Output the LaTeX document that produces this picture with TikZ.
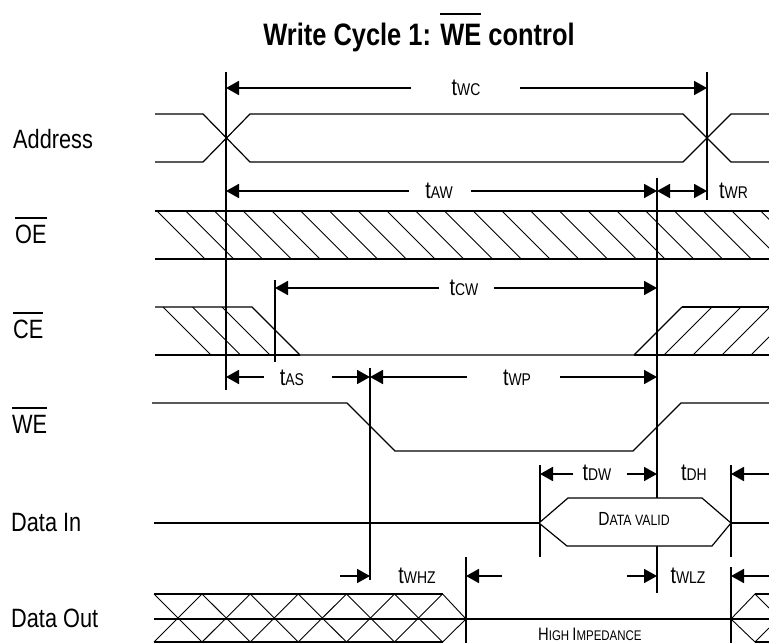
\documentclass[tikz,border=0pt]{standalone}
\usepackage{fontspec}
\setmainfont{Liberation Sans}
\usepackage{graphicx}
\usetikzlibrary{arrows.meta}
\newcommand{\nar}[1]{\scalebox{0.82}[1]{#1}}
\newcommand{\ovl}[3]{\vbox{\hrule height #1\kern #2\hbox{#3}}}
\newcommand{\tlab}[1]{\nar{\fontsize{24}{24}\selectfont t\fontsize{17}{17}\selectfont #1}}
\newcommand{\lfont}{\fontsize{26.5}{26.5}\selectfont}
\begin{document}
\begin{tikzpicture}[x=1pt,y=-1pt,
  vline/.style={line width=1.8pt},
  sig/.style={line width=1.2pt},
  sigb/.style={line width=2pt},
  hatchln/.style={line width=0.9pt},
  dimarr/.style={line width=1.8pt,-{Triangle[length=13pt,width=14pt]}},
  dimboth/.style={line width=1.8pt,{Triangle[length=13pt,width=14pt]}-{Triangle[length=13pt,width=14pt]}},
  lab/.style={inner sep=0pt, anchor=base west},
  tl/.style={inner sep=0pt, anchor=base}]
\useasboundingbox (0,0) rectangle (769,643);

% title
\node[tl] (title) at (419,45) {\nar{\fontsize{31}{31}\selectfont\bfseries Write Cycle 1: \ovl{2.3pt}{8.5pt}{WE} control}};

% signal labels
\node[lab] (laddr) at (13,148) {\nar{\lfont Address}};
\node[lab] (loe) at (15,243) {\nar{\lfont\ovl{1.5pt}{6pt}{OE}}};
\node[lab] (lce) at (13,338) {\nar{\lfont\ovl{1.5pt}{6pt}{CE}}};
\node[lab] (lwe) at (12,433) {\nar{\lfont\ovl{1.5pt}{6pt}{WE}}};
\node[lab] (ldin) at (11,531) {\nar{\lfont Data In}};
\node[lab] (ldout) at (11,627) {\nar{\lfont Data Out}};

% timing marker lines
\draw[vline] (226,72) -- (226,390);
\draw[vline] (707,72) -- (707,200);
\draw[vline] (657,178) -- (657,498);
\draw[vline] (657,546) -- (657,593);
\draw[vline] (275,280) -- (275,362);
\draw[vline] (370,368) -- (370,580);
\draw[vline] (540,465) -- (540,557);
\draw[vline] (731,465) -- (731,557);
\draw[vline] (731,567) -- (731,643);
\draw[vline] (466,557) -- (466,643);

% Address
\draw[sig] (155,114) -- (203,114) -- (250,162) -- (683,162) -- (731,114) -- (769,114);
\draw[sig] (155,162) -- (203,162) -- (250,114) -- (683,114) -- (731,162) -- (769,162);

% OE
\begin{scope}
\clip (155,211) rectangle (769,259);
\foreach \i in {0,...,21} \draw[hatchln] ({157+28.75*\i},211) -- ++(48,48);
\end{scope}
\draw[sigb] (155,211) -- (769,211);
\draw[sigb] (155,259) -- (769,259);

% CE
\begin{scope}
\clip (155,307) -- (252,307) -- (300,355) -- (155,355) -- cycle;
\foreach \xx in {163,192.5,222} \draw[hatchln] (\xx,307) -- ++(48,48);
\end{scope}
\begin{scope}
\clip (634,355) -- (682,307) -- (769,307) -- (769,355) -- cycle;
\foreach \xx in {664,693,722,751} \draw[hatchln] (\xx,355) -- ++(48,-48);
\end{scope}
\draw[sig] (155,307) -- (252,307) -- (300,355);
\draw[sigb] (155,355) -- (300,355);
\draw[sig] (300,355) -- (634,355) -- (682,307);
\draw[sigb] (682,307) -- (769,307);
\draw[sigb] (634,355) -- (769,355);

% WE
\draw[sig] (152,403) -- (347,403) -- (395,451) -- (633,451) -- (681,403) -- (769,403);

% Data In
\draw[sigb] (154,523) -- (539,523);
\draw[sigb] (731,523) -- (769,523);
\draw[sig,fill=white] (539,523) -- (568,498) -- (702,498) -- (731,523) -- (712,546) -- (567,546) -- cycle;
\node[tl] (dvalid) at (634,525) {\nar{\fontsize{19}{19}\selectfont D\fontsize{15}{15}\selectfont ATA VALID}};

% Data Out
\draw[sig] (154,594) -- (443,594);
\draw[sig] (154,642) -- (443,642);
\draw[hatchln] (154,594) -- (202.1,642) -- (250.2,594) -- (298.3,642) -- (346.4,594) -- (394.5,642) -- (442.6,594) -- (466,619);
\draw[hatchln] (154,642) -- (202.1,594) -- (250.2,642) -- (298.3,594) -- (346.4,642) -- (394.5,594) -- (442.6,642) -- (466,619);
\draw[sigb] (154,619) -- (769,619);
\draw[hatchln] (731,619) -- (755,594) -- (769,608);
\draw[hatchln] (731,619) -- (755,642) -- (769,628);
\draw[sig] (755,594) -- (769,594);
\draw[sig] (755,642) -- (769,642);
\node[lab] (hiz) at (538,640) {\nar{\fontsize{18}{18}\selectfont H\fontsize{14}{14}\selectfont IGH \fontsize{18}{18}\selectfont I\fontsize{14}{14}\selectfont MPEDANCE}};

% timing labels
\node[tl] (twc) at (466,95) {\tlab{WC}};
\node[tl] (taw) at (439,198) {\tlab{AW}};
\node[lab] (twr) at (719,198) {\tlab{WR}};
\node[tl] (tcw) at (464,295) {\tlab{CW}};
\node[tl] (tas) at (292,385) {\tlab{AS}};
\node[tl] (twp) at (517,385) {\tlab{WP}};
\node[tl] (tdw) at (597,480) {\tlab{DW}};
\node[tl] (tdh) at (694,480) {\tlab{DH}};
\node[tl] (twhz) at (417,583) {\tlab{WHZ}};
\node[tl] (twlz) at (688,583) {\tlab{WLZ}};

% dimension arrows
\draw[dimarr] (411,88) -- (226,88);
\draw[dimarr] (520,88) -- (707,88);
\draw[dimarr] (409,191) -- (226,191);
\draw[dimarr] (471,191) -- (657,191);
\draw[dimboth] (657,191) -- (707,191);
\draw[dimarr] (439,288) -- (275,288);
\draw[dimarr] (494,288) -- (657,288);
\draw[dimarr] (264,377) -- (226,377);
\draw[dimarr] (332,377) -- (370,377);
\draw[dimarr] (467,377) -- (370,377);
\draw[dimarr] (560,377) -- (657,377);
\draw[dimarr] (573,474) -- (540,474);
\draw[dimarr] (627,474) -- (657,474);
\draw[dimarr] (769,474) -- (731,474);
\draw[dimarr] (340,576) -- (370,576);
\draw[dimarr] (502,576) -- (466,576);
\draw[dimarr] (627,576) -- (657,576);
\draw[dimarr] (769,576) -- (731,576);
\end{tikzpicture}
\end{document}
